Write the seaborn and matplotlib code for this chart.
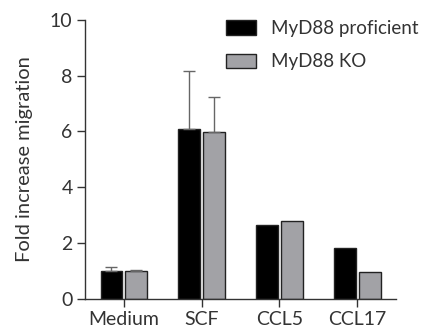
import matplotlib
matplotlib.use("Agg")
import matplotlib.pyplot as plt
import seaborn as sns
import numpy as np
import pandas as pd

# data
categories = ["Medium", "SCF", "CCL5", "CCL17"]
groups = ["MyD88 proficient", "MyD88 KO"]
proficient = [1.0, 6.1, 2.64, 1.81]
ko = [1.0, 5.96, 2.79, 0.95]
proficient_err = [0.15, 2.07, 0.0, 0.0]
ko_err = [0.03, 1.29, 0.0, 0.0]

df = pd.DataFrame({
    "Condition": categories * 2,
    "Group": [groups[0]] * len(categories) + [groups[1]] * len(categories),
    "Value": proficient + ko,
    "Err": proficient_err + ko_err,
})

sns.set_style("ticks")
plt.rcParams["font.family"] = ["Lato", "DejaVu Sans"]

fig = plt.figure(figsize=(4.21, 3.31), dpi=100)
ax = fig.add_axes([0.202, 0.098, 0.739, 0.842])

palette = {groups[0]: "#000000", groups[1]: "#a2a2a6"}
sns.barplot(data=df, x="Condition", y="Value", hue="Group", order=categories,
            hue_order=groups, palette=palette, width=0.64, gap=0.12,
            edgecolor="#222222", linewidth=1.0, errorbar=None, saturation=1,
            ax=ax)

# upward-only error bars, placed on the drawn bars
for container, g in zip(ax.containers, groups):
    sub = df[df["Group"] == g].set_index("Condition").loc[categories]
    for bar, err in zip(container.patches, sub["Err"]):
        if err > 0:
            xc = bar.get_x() + bar.get_width() / 2
            ax.errorbar(xc, bar.get_height(), yerr=[[0], [err]], fmt="none",
                        ecolor="#666666", elinewidth=1.0, capsize=4, capthick=1.0)

ax.set_xlim(-0.5, 3.5)
ax.set_ylim(0, 10)
ax.set_yticks(np.arange(0, 11, 2))
ax.set_xlabel("")
ax.set_ylabel("Fold increase migration", fontsize=14.5, color="#333333", labelpad=12)
ax.tick_params(axis="both", labelsize=14, colors="#333333", length=6, width=1.0,
               direction="out", pad=3)
for s in ["left", "bottom"]:
    ax.spines[s].set_color("#333333")
    ax.spines[s].set_linewidth(1.0)
sns.despine(ax=ax)

leg = ax.legend(loc="upper left", bbox_to_anchor=(226 / 421, 1 - 20 / 331),
                bbox_transform=fig.transFigure, frameon=False, borderpad=0,
                borderaxespad=0, fontsize=13.5, handlelength=1.6,
                handleheight=0.8, labelspacing=0.87, handletextpad=0.8)
for t in leg.get_texts():
    t.set_color("#333333")

fig.savefig("out.png", dpi=100)
